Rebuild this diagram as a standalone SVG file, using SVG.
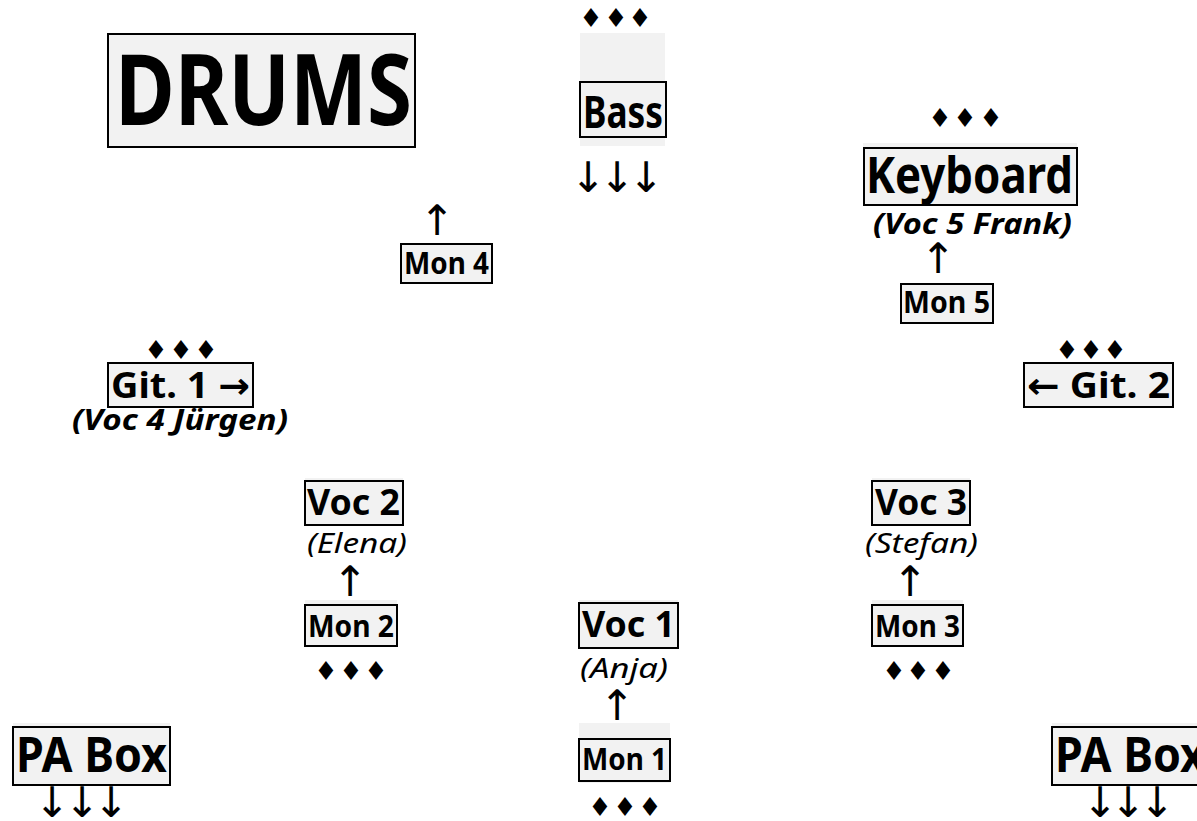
<svg xmlns="http://www.w3.org/2000/svg" width="1197" height="821" viewBox="0 0 1197 821">
<style>
.bg{fill:#f2f2f2}
.box{fill:#f2f2f2;stroke:#000;stroke-width:2}
.t{font-family:"Noto Sans","DejaVu Sans",sans-serif;font-weight:bold;fill:#000}
.bi{font-family:"Noto Sans","DejaVu Sans",sans-serif;font-weight:bold;font-style:italic;font-size:28px;fill:#000}
.it{font-family:"Noto Sans","DejaVu Sans",sans-serif;font-style:italic;font-size:28px;fill:#000}
.sym{font-family:"DejaVu Sans",sans-serif;fill:#000;text-anchor:middle}
.dia{font-size:26px}
.arr{font-size:42px}
</style>
<rect width="1197" height="821" fill="#fff"/>

<g id="drums">
<rect class="box" x="108" y="34" width="307" height="113"/>
<text class="t" x="115" y="125" font-size="98" textLength="297" lengthAdjust="spacingAndGlyphs">DRUMS</text>
</g>

<g id="bass">
<text class="sym dia" x="591 616 640" y="27">♦♦♦</text>
<rect class="bg" x="580" y="33" width="85" height="113"/>
<rect class="box" x="580" y="82" width="86" height="55"/>
<text class="t" x="583" y="128" font-size="45" textLength="80" lengthAdjust="spacingAndGlyphs">Bass</text>
<text class="sym arr" x="588 617 646" y="192">↓↓↓</text>
</g>

<g id="keyboard">
<text class="sym dia" x="940 965 991" y="127">♦♦♦</text>
<rect class="bg" x="863" y="143" width="214" height="10"/>
<rect class="box" x="864" y="148" width="213" height="57"/>
<text class="t" x="866" y="193" font-size="50" textLength="207" lengthAdjust="spacingAndGlyphs">Keyboard</text>
<text class="bi" x="873" y="234" textLength="199" lengthAdjust="spacingAndGlyphs">(Voc 5 Frank)</text>
</g>

<g id="mon5">
<text class="sym arr" x="938" y="273">↑</text>
<rect class="box" x="901" y="284" width="92" height="39"/>
<text class="t" x="903" y="313" font-size="31" textLength="87" lengthAdjust="spacingAndGlyphs">Mon 5</text>
</g>

<g id="mon4">
<text class="sym arr" x="437" y="235">↑</text>
<rect class="box" x="401" y="244" width="91" height="39"/>
<text class="t" x="404" y="274" font-size="31" textLength="85" lengthAdjust="spacingAndGlyphs">Mon 4</text>
</g>

<g id="git1">
<text class="sym dia" x="156 181 206" y="359">♦♦♦</text>
<rect class="box" x="108" y="363" width="145" height="44"/>
<text class="t" x="111" y="398" font-size="36" textLength="139" lengthAdjust="spacingAndGlyphs">Git. 1 →</text>
<text class="bi" x="72" y="430" textLength="216" lengthAdjust="spacingAndGlyphs">(Voc 4 Jürgen)</text>
</g>

<g id="git2">
<text class="sym dia" x="1067 1091 1115" y="359">♦♦♦</text>
<rect class="box" x="1024" y="363" width="149" height="44"/>
<text class="t" x="1027" y="398" font-size="36" textLength="143" lengthAdjust="spacingAndGlyphs">← Git. 2</text>
</g>

<g id="voc2">
<rect class="bg" x="305" y="478" width="98" height="8"/>
<rect class="box" x="305" y="481" width="98" height="44"/>
<text class="t" x="307" y="515" font-size="35" textLength="93" lengthAdjust="spacingAndGlyphs">Voc 2</text>
<text class="it" x="307" y="553" textLength="100" lengthAdjust="spacingAndGlyphs">(Elena)</text>
</g>

<g id="mon2">
<text class="sym arr" x="350" y="596">↑</text>
<rect class="bg" x="305" y="600" width="92" height="8"/>
<rect class="box" x="305" y="605" width="92" height="41"/>
<text class="t" x="308" y="637" font-size="31" textLength="86" lengthAdjust="spacingAndGlyphs">Mon 2</text>
<text class="sym dia" x="326 351 376" y="680">♦♦♦</text>
</g>

<g id="voc3">
<rect class="bg" x="872" y="478" width="98" height="8"/>
<rect class="box" x="872" y="481" width="98" height="44"/>
<text class="t" x="875" y="515" font-size="35" textLength="92" lengthAdjust="spacingAndGlyphs">Voc 3</text>
<text class="it" x="865" y="553" textLength="113" lengthAdjust="spacingAndGlyphs">(Stefan)</text>
</g>

<g id="mon3">
<text class="sym arr" x="910" y="596">↑</text>
<rect class="bg" x="872" y="600" width="91" height="8"/>
<rect class="box" x="872" y="605" width="91" height="41"/>
<text class="t" x="875" y="637" font-size="31" textLength="85" lengthAdjust="spacingAndGlyphs">Mon 3</text>
<text class="sym dia" x="894 918 943" y="680">♦♦♦</text>
</g>

<g id="voc1">
<rect class="bg" x="579" y="600" width="99" height="8"/>
<rect class="box" x="579" y="603" width="99" height="45"/>
<text class="t" x="582" y="637" font-size="35" textLength="93" lengthAdjust="spacingAndGlyphs">Voc 1</text>
<text class="it" x="580" y="678" textLength="88" lengthAdjust="spacingAndGlyphs">(Anja)</text>
</g>

<g id="mon1">
<text class="sym arr" x="617" y="720">↑</text>
<rect class="bg" x="579" y="723" width="91" height="60"/>
<rect class="box" x="579" y="739" width="91" height="42"/>
<text class="t" x="582" y="770" font-size="31" textLength="85" lengthAdjust="spacingAndGlyphs">Mon 1</text>
<text class="sym dia" x="600 625 650" y="816">♦♦♦</text>
</g>

<g id="pa-left">
<rect class="bg" x="13" y="723" width="157" height="8"/>
<rect class="box" x="13" y="727" width="157" height="58"/>
<text class="t" x="16" y="772" font-size="49" textLength="151" lengthAdjust="spacingAndGlyphs">PA Box</text>
<text class="sym arr" x="52 82 111" y="817">↓↓↓</text>
</g>

<g id="pa-right">
<rect class="bg" x="1052" y="723" width="157" height="8"/>
<rect class="box" x="1052" y="727" width="157" height="58"/>
<text class="t" x="1055" y="772" font-size="49" textLength="151" lengthAdjust="spacingAndGlyphs">PA Box</text>
<text class="sym arr" x="1100 1128 1157" y="817">↓↓↓</text>
</g>

<g id="connectors"></g>
</svg>
